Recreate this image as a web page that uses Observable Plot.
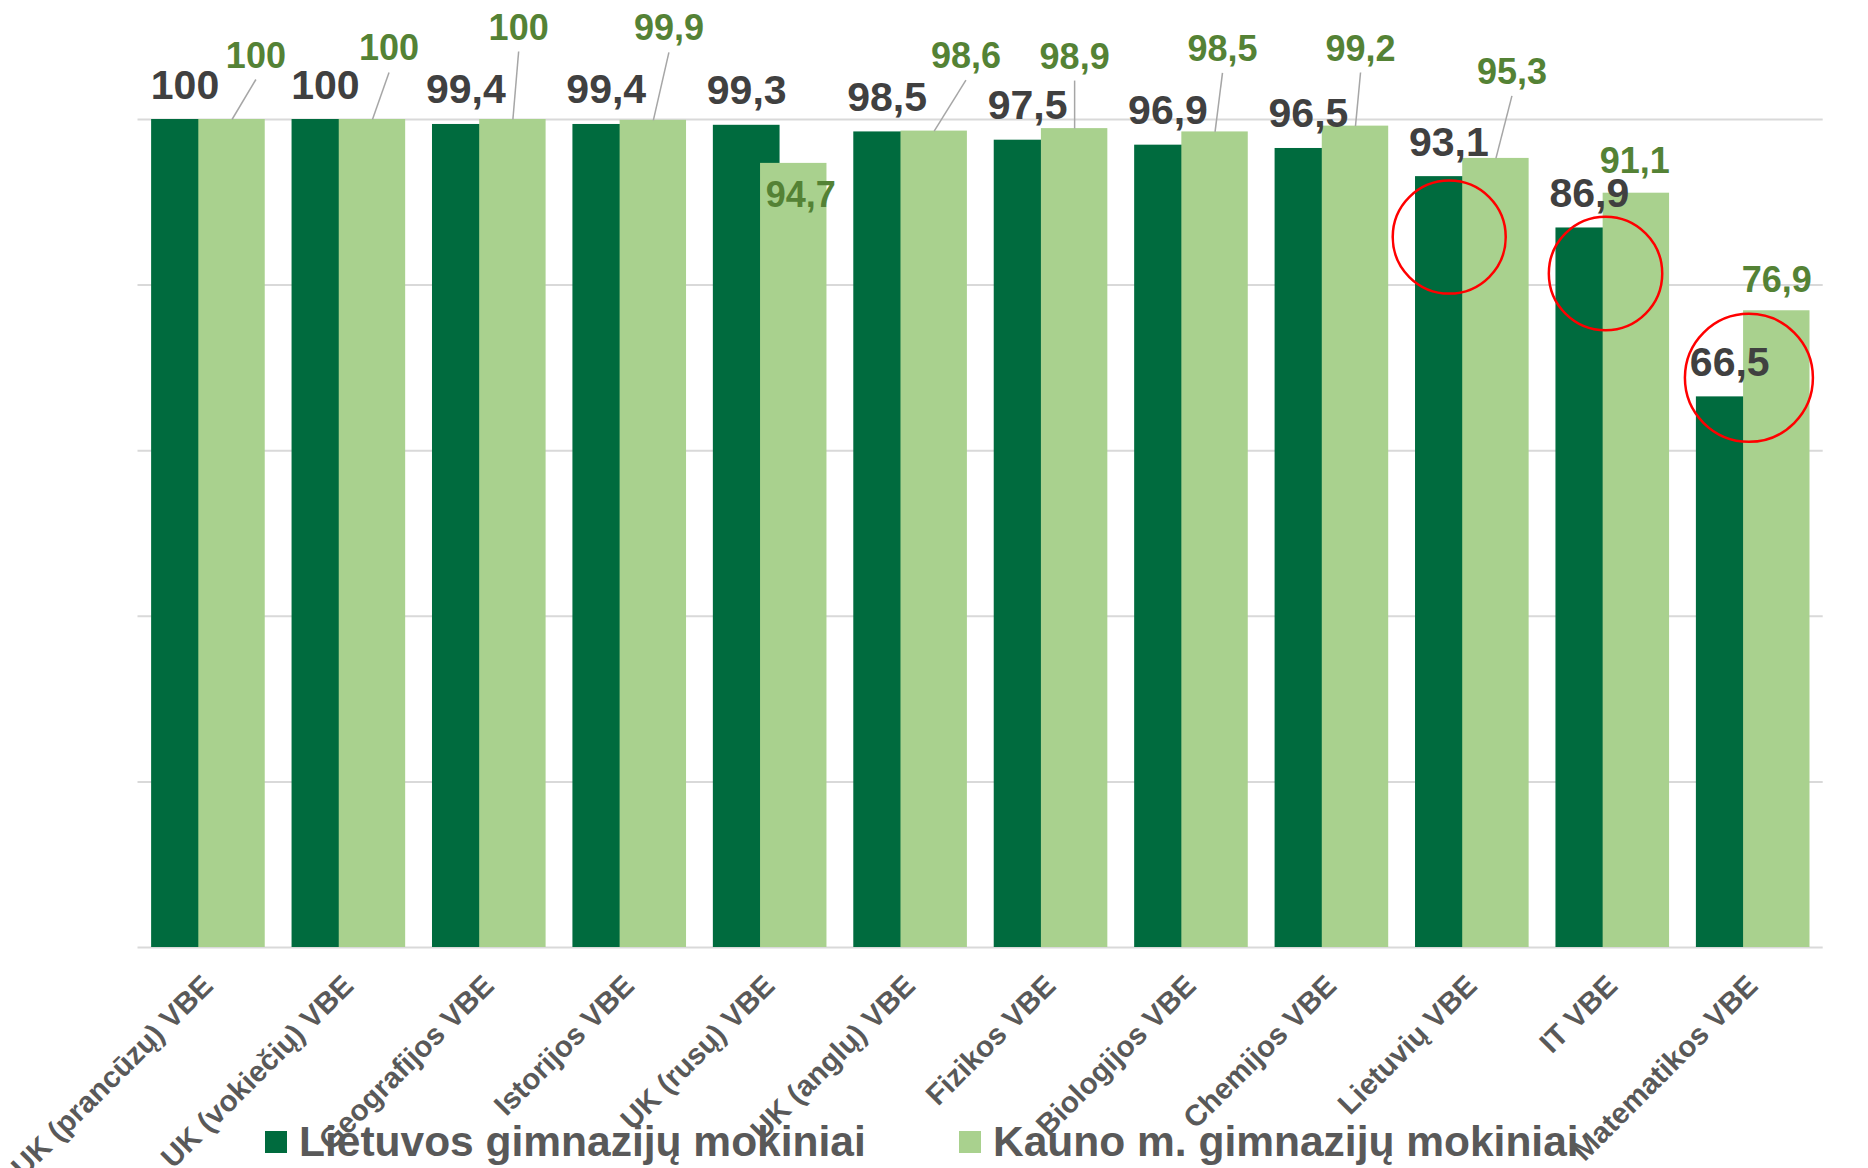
<!DOCTYPE html>
<html>
<head>
<meta charset="utf-8">
<script src="https://cdn.jsdelivr.net/npm/d3@7"></script>
<script src="https://cdn.jsdelivr.net/npm/@observablehq/plot@0.6"></script>
<style>
  body { margin: 0; background: #fff; }
  #wrap { position: relative; width: 1868px; height: 1168px; overflow: hidden; background: #fff; }
  .item { position: absolute; top: 1119px; height: 46px; display: flex; align-items: center;
          font: bold 42.5px "Liberation Sans", Arial, sans-serif; color: #595959; white-space: nowrap; line-height: 46px; }
  .sw { display: inline-block; width: 22px; height: 22px; margin-right: 12px; }
</style>
</head>
<body>
<div id="wrap"></div>
<script>
// ---- data ----
const categories = [
  "UK (prancūzų) VBE", "UK (vokiečių) VBE", "Geografijos VBE", "Istorijos VBE",
  "UK (rusų) VBE", "UK (anglų) VBE", "Fizikos VBE", "Biologijos VBE",
  "Chemijos VBE", "Lietuvių VBE", "IT VBE", "Matematikos VBE"
];
const lietuvos = [100, 100, 99.4, 99.4, 99.3, 98.5, 97.5, 96.9, 96.5, 93.1, 86.9, 66.5];
const kauno    = [100, 100, 100, 99.9, 94.7, 98.6, 98.9, 98.5, 99.2, 95.3, 91.1, 76.9];
const seriesNames = ["Lietuvos gimnazijų mokiniai", "Kauno m. gimnazijų mokiniai"];

// ---- annotation layout (manually moved labels of the 2nd series) ----
// horizontal shift (fraction of a category band) and lift above the bar (value units)
const kaunoLabelShift = [0.170, 0.118, 0.041, 0.111, 0.050, 0.226, 0.000, 0.053, 0.036, 0.114, -0.011, 0.000];
const kaunoLabelLift  = [6.28, 7.13, 9.66, 9.66, -5.31, 7.61, 7.25, 8.57, 7.92, 9.01, 2.42, 2.25];
const kaunoLeader     = [true, true, true, true, false, true, true, true, true, true, false, false];
// red highlight circles
const circleCategory = [9, 10, 11];
const circleShift    = [0.337, 0.450, 0.471];
const circleValue    = [85.8, 81.4, 68.8];
const circleRadius   = [56.5, 56.7, 64];

// ---- styles ----
const COLORS = ["#006b3e", "#a9d18e"];
const DARK = {x1: 0.097, x2: 0.572};
const LIGHT = {x1: 0.433, x2: 0.906};
const darkC = (DARK.x1 + DARK.x2) / 2;
const lightC = (LIGHT.x1 + LIGHT.x2) / 2;
const LEADER_GAP = 1.45;
const fmt = v => String(v).replace(".", ",");
const FONT = "'Liberation Sans', Arial, sans-serif";

const idx = d3.range(categories.length);
const dark = idx.map(i => ({i, cat: categories[i], value: lietuvos[i]}));
const light = idx.map(i => ({i, cat: categories[i], value: kauno[i],
  shift: kaunoLabelShift[i], lift: kaunoLabelLift[i], leader: kaunoLeader[i]}));
const circles = circleCategory.map((c, k) => ({c, shift: circleShift[k], value: circleValue[k], r: circleRadius[k]}));
const catIdx = idx.map(i => ({i, name: categories[i]}));

const chart = Plot.plot({
  width: 1868,
  height: 1168,
  marginLeft: 137.5,
  marginRight: 45.3,
  marginTop: 119,
  marginBottom: 221,
  x: {domain: [0, categories.length], axis: null},
  y: {domain: [0, 100], axis: null},
  r: {type: "identity"},
  style: {background: "#fff", overflow: "visible", fontFamily: FONT},
  marks: [
    Plot.ruleY([0, 20, 40, 60, 80, 100], {stroke: "#d9d9d9", strokeWidth: 2}),
    Plot.rect(dark, {x1: d => d.i + DARK.x1, x2: d => d.i + DARK.x2, y1: 0, y2: "value", fill: COLORS[0]}),
    Plot.rect(light, {x1: d => d.i + LIGHT.x1, x2: d => d.i + LIGHT.x2, y1: 0, y2: "value", fill: COLORS[1]}),
    Plot.link(light.filter(d => d.leader), {
      x1: d => d.i + lightC, y1: "value",
      x2: d => d.i + lightC + d.shift, y2: d => d.value + d.lift - LEADER_GAP,
      stroke: "#a6a6a6", strokeWidth: 1.5
    }),
    Plot.text(dark, {
      x: d => d.i + darkC, y: "value", text: d => fmt(d.value),
      dy: -21, lineAnchor: "bottom", textAnchor: "middle",
      fontSize: 41, fontWeight: "bold", fill: "#404040"
    }),
    Plot.text(light, {
      x: d => d.i + lightC + d.shift, y: d => d.value + d.lift, text: d => fmt(d.value),
      lineAnchor: "bottom", textAnchor: "middle",
      fontSize: 36, fontWeight: "bold", fill: "#548235"
    }),
    Plot.dot(circles, {
      x: d => d.c + d.shift, y: "value", r: "r",
      fill: "none", stroke: "#ff0000", strokeWidth: 2.5
    }),
    Plot.text(catIdx, {
      x: d => d.i + 0.5, frameAnchor: "bottom", text: "name",
      dx: 6.5, dy: 40, rotate: -45, textAnchor: "end", lineAnchor: "bottom",
      fontSize: 29.5, fontWeight: "bold", fill: "#595959"
    })
  ]
});

const wrap = document.getElementById("wrap");
wrap.appendChild(chart);

// legend (below the plot area, overlapping the bottom as in the original)
const legendLeft = [265, 959];
seriesNames.forEach((name, k) => {
  const item = document.createElement("div");
  item.className = "item";
  item.style.left = legendLeft[k] + "px";
  const sw = document.createElement("span");
  sw.className = "sw";
  sw.style.background = COLORS[k];
  const t = document.createElement("span");
  t.textContent = name;
  item.appendChild(sw);
  item.appendChild(t);
  wrap.appendChild(item);
});
</script>
</body>
</html>
